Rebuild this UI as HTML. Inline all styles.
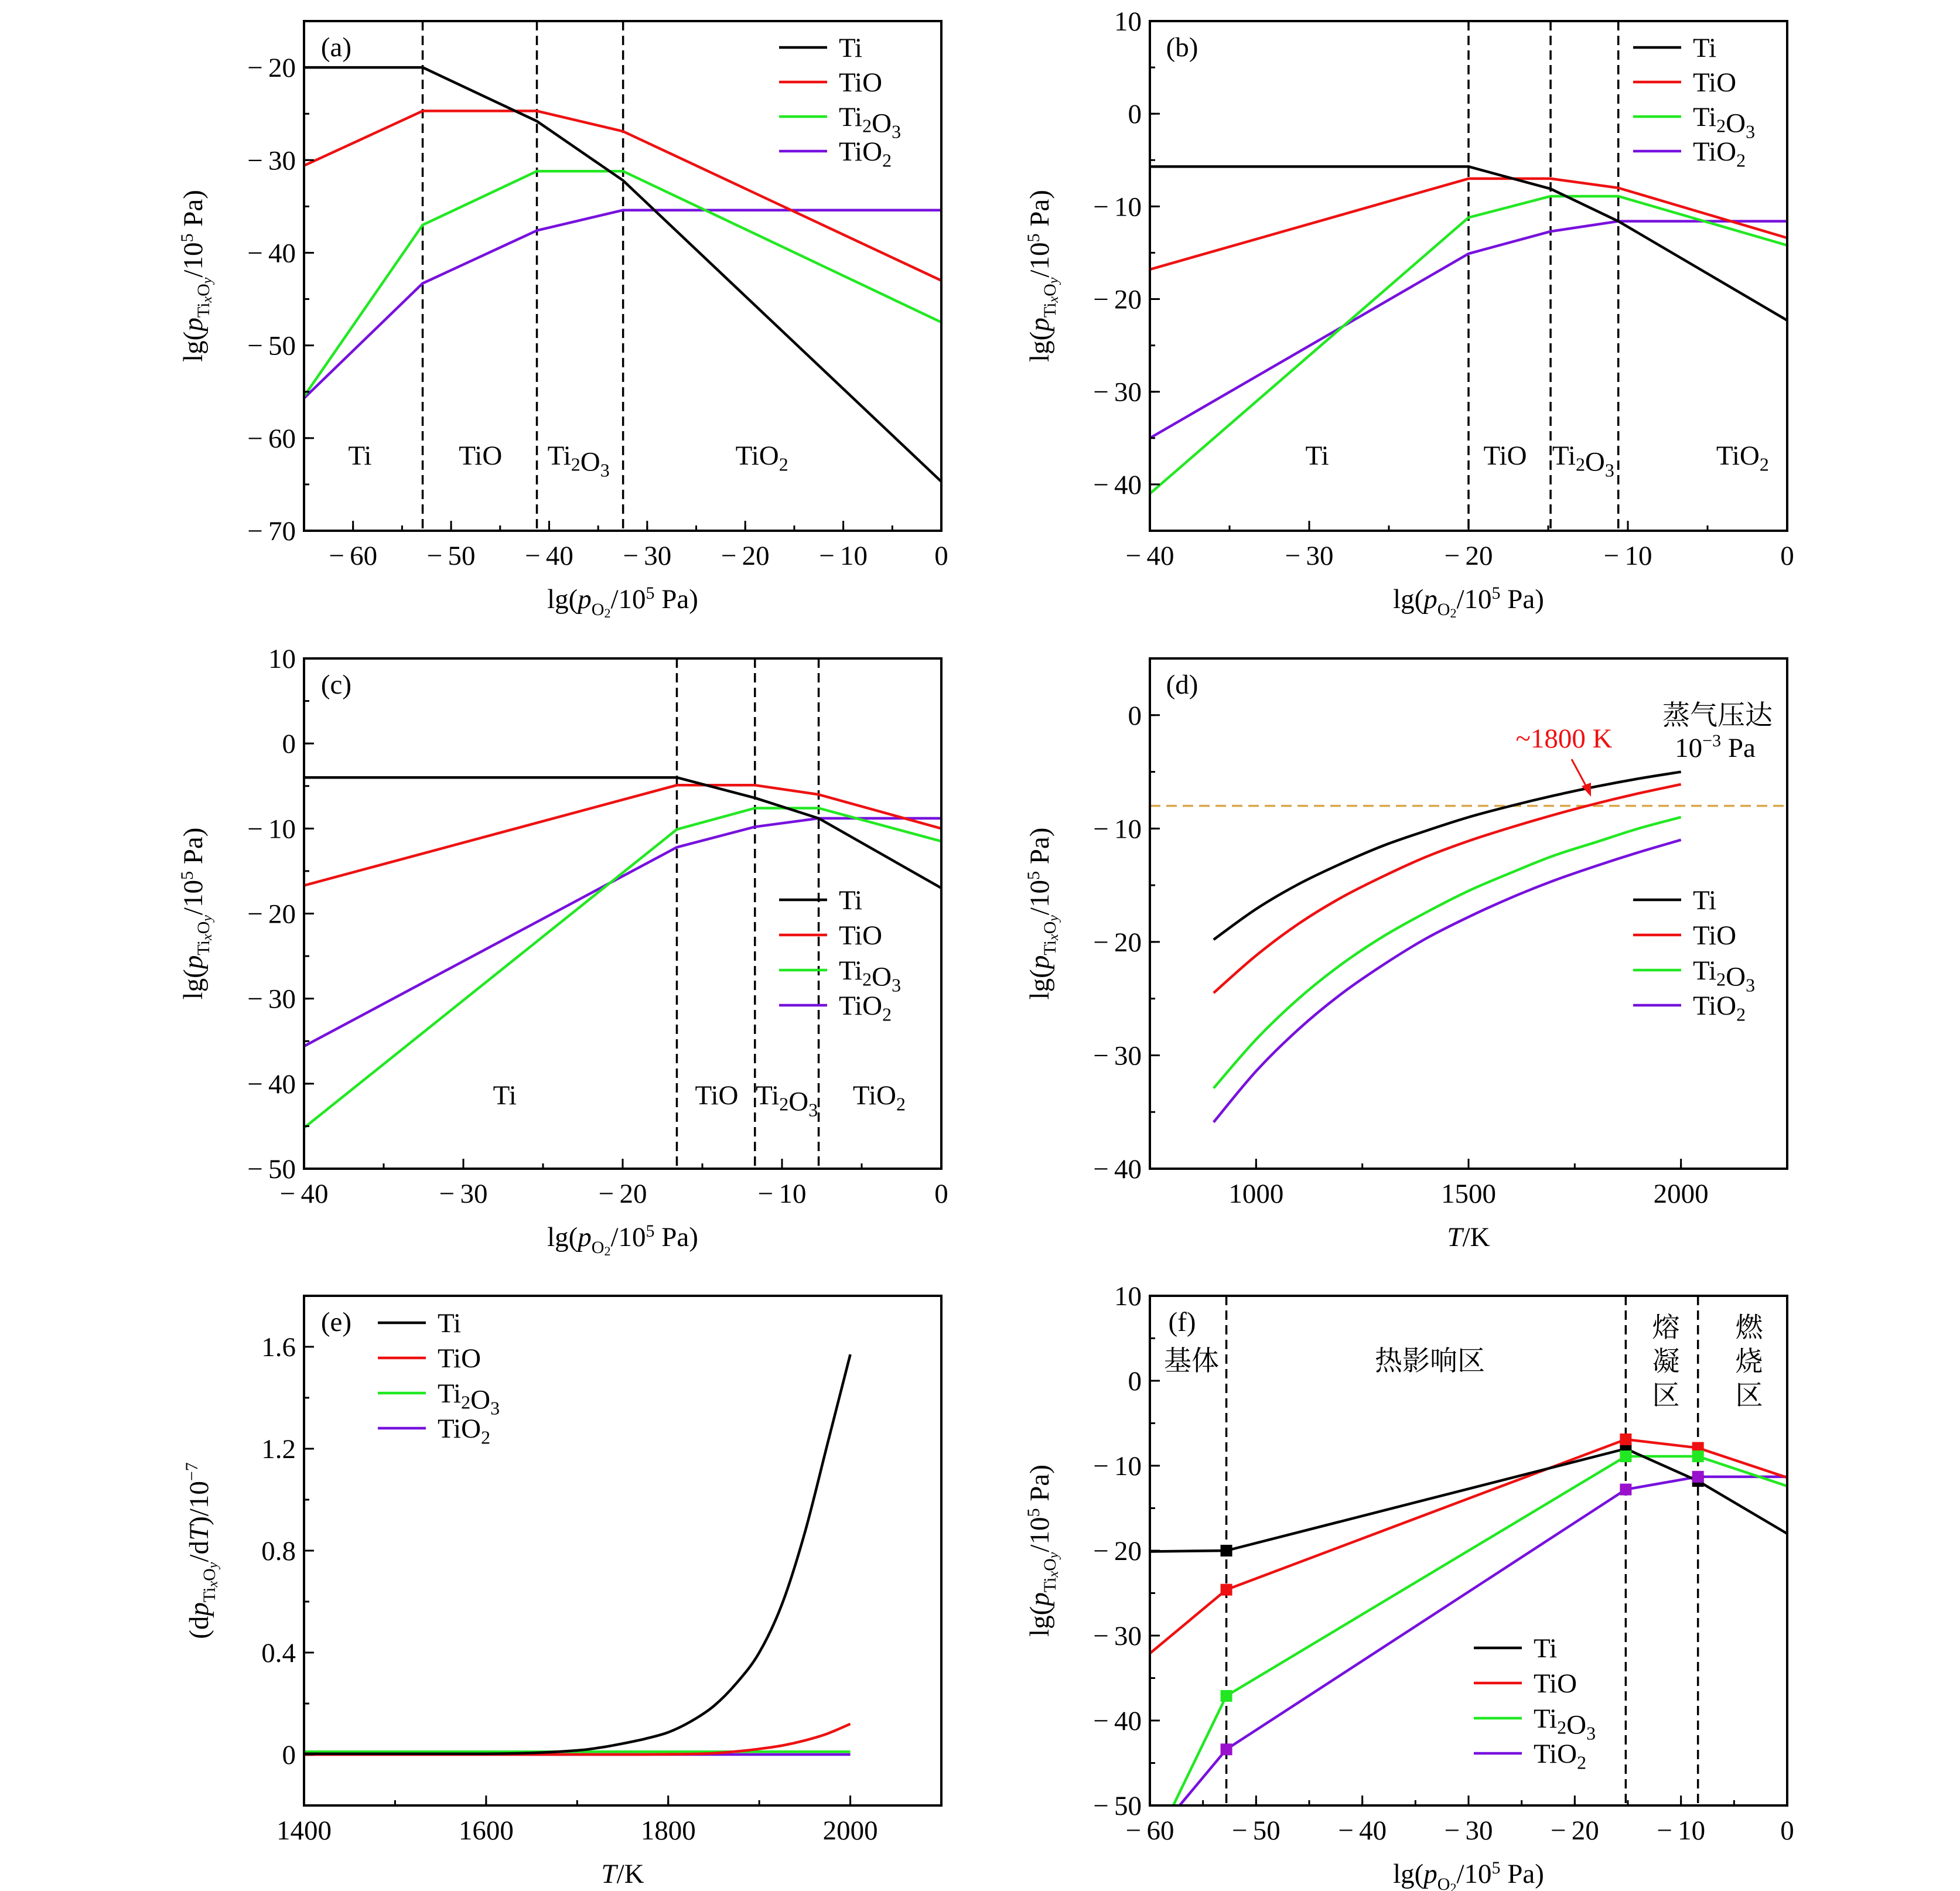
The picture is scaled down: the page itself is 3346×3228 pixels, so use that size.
<!DOCTYPE html>
<html><head><meta charset="utf-8"><style>
html,body{margin:0;padding:0;background:#fff;}
svg{display:block;}
text{font-family:"Liberation Serif","Noto Serif CJK SC","Noto Sans CJK SC",serif;}
</style></head><body>
<svg id="fig" xmlns="http://www.w3.org/2000/svg" width="3346" height="3228" viewBox="0 0 3346 3228"></svg>
<script>
// ---------- DATA ----------
// panel a
const aBounds = [-52.9, -41.25, -32.46];
const aX = [-65, -52.9, -41.25, -32.46, 0];
const aTi = [-20, -20, -25.8, -32.2, -64.7];
const aTiO = [-30.6, -24.7, -24.7, -26.9, -43];
const aTi2O3 = [-55.5, -37, -31.2, -31.2, -47.5];
const aTiO2 = [-55.7, -43.3, -37.6, -35.4, -35.4];
// panel b
const bBounds = [-20, -14.85, -10.6];
const bX = [-40, -20, -14.85, -10.6, 0];
const bTi = [-5.7, -5.7, -8.1, -11.6, -22.3];
const bTiO = [-16.8, -7, -7, -8.0, -13.4];
const bTi2O3 = [-41, -11.2, -8.9, -8.9, -14.2];
const bTiO2 = [-35, -15.1, -12.7, -11.6, -11.6];
// panel c
const cBounds = [-16.6, -11.7, -7.7];
const cX = [-40, -16.6, -11.7, -7.7, 0];
const cTi = [-4.0, -4.0, -6.4, -8.8, -17];
const cTiO = [-16.7, -4.9, -4.9, -6.0, -10];
const cTi2O3 = [-45.2, -10.1, -7.6, -7.6, -11.5];
const cTiO2 = [-35.6, -12.2, -9.8, -8.8, -8.8];
// panel d
const dT = [900, 1000, 1100, 1200, 1300, 1400, 1500, 1600, 1700, 1800, 1900, 2000];
const dTi = [-19.8, -17.1, -14.9, -13.1, -11.5, -10.2, -9.0, -8.0, -7.1, -6.3, -5.6, -5.0];
const dTiO = [-24.5, -21.2, -18.4, -16.1, -14.2, -12.5, -11.1, -9.9, -8.8, -7.8, -6.9, -6.1];
const dTi2O3 = [-32.9, -28.6, -25.0, -22.0, -19.5, -17.4, -15.5, -13.9, -12.4, -11.2, -10.0, -9.0];
const dTiO2 = [-35.9, -31.4, -27.7, -24.6, -22.0, -19.7, -17.8, -16.1, -14.6, -13.3, -12.1, -11.0];
const dThreshold = [-8];
// panel e
const eT = [1400, 1500, 1600, 1650, 1700, 1725, 1750, 1775, 1800, 1825, 1850, 1875, 1900, 1925, 1950, 1975, 2000];
const eTi = [0.003, 0.003, 0.003, 0.006, 0.016, 0.027, 0.043, 0.062, 0.087, 0.13, 0.19, 0.28, 0.40, 0.59, 0.87, 1.22, 1.57];
const eTiO = [0, 0, 0, 0, 0, 0, 0, 0, 0.001, 0.002, 0.005, 0.012, 0.022, 0.035, 0.055, 0.082, 0.12];
const eTi2O3 = [0.011, 0.011, 0.011, 0.011, 0.011, 0.011, 0.011, 0.011, 0.011, 0.011, 0.011, 0.011, 0.011, 0.011, 0.011, 0.011, 0.011];
const eTiO2 = [0, 0, 0, 0, 0, 0, 0, 0, 0, 0, 0, 0, 0, 0, 0, 0, 0];
// panel f
const fBounds = [-52.8, -15.2, -8.4];
const fXTi = [-60, -52.8, -15.2, -8.4, 0];
const fTi = [-20.1, -20, -8.0, -11.8, -18];
const fXTiO = [-60, -52.8, -15.2, -8.4, 0];
const fTiO = [-32.1, -24.6, -6.9, -7.9, -11.4];
const fXTi2O3 = [-57.8, -52.8, -15.2, -8.4, 0];
const fTi2O3 = [-50, -37.1, -8.9, -8.9, -12.4];
const fXTiO2 = [-57.2, -52.8, -15.2, -8.4, 0];
const fTiO2 = [-50, -43.4, -12.8, -11.3, -11.3];

// ---------- DRAWING ----------
const NS = 'http://www.w3.org/2000/svg';
const svg = document.getElementById('fig');
const COL = {Ti:'#000000', TiO:'#ee1111', Ti2O3:'#22e822', TiO2:'#7711dd'};
function mk(tag, attrs, parent){
  const e = document.createElementNS(NS, tag);
  for (const k in attrs) e.setAttribute(k, attrs[k]);
  (parent||svg).appendChild(e);
  return e;
}
function fmt(v, dec){
  const s = Math.abs(v).toFixed(dec);
  return (v < -1e-9 ? '\u2212\u2009' : '') + s;
}
function makePanel(id, L, R, T, B, xmin, xmax, ymin, ymax){
  const g = mk('g', {});
  
  
  const p = {g, L, R, T, B,
    sx: v => L + (v - xmin) / (xmax - xmin) * (R - L),
    sy: v => B - (v - ymin) / (ymax - ymin) * (B - T)};
  const clip = mk('clipPath', {id: 'clip-' + id}, g);
  mk('rect', {x: L, y: T, width: R - L, height: B - T}, clip);
  p.plot = mk('g', {'clip-path': 'url(#clip-' + id + ')'}, g);
  
  
  return p;
}
function frame(p){
  const r = mk('rect', {x: p.L, y: p.T, width: p.R - p.L, height: p.B - p.T, fill: 'none', stroke: '#000', 'stroke-width': 4}, p.g);
  
  
}
function xTicks(p, major, minor, dec){
  const ax = mk('g', {}, p.g);
  
  
  minor.forEach(v => { const x = p.sx(v); mk('line', {x1: x, x2: x, y1: p.B, y2: p.B - 9, stroke: '#000', 'stroke-width': 3}, ax); });
  major.forEach(v => {
    const x = p.sx(v);
    mk('line', {x1: x, x2: x, y1: p.B, y2: p.B - 17, stroke: '#000', 'stroke-width': 3}, ax);
    const t = mk('text', {x: x, y: p.B + 58, 'font-size': 47, 'text-anchor': 'middle'}, ax);
    
    
    t.textContent = fmt(v, dec);
  });
}
function yTicks(p, major, minor, dec){
  const ax = mk('g', {}, p.g);
  
  
  minor.forEach(v => { const y = p.sy(v); mk('line', {x1: p.L, x2: p.L + 9, y1: y, y2: y, stroke: '#000', 'stroke-width': 3}, ax); });
  major.forEach(v => {
    const y = p.sy(v);
    mk('line', {x1: p.L, x2: p.L + 17, y1: y, y2: y, stroke: '#000', 'stroke-width': 3}, ax);
    const t = mk('text', {x: p.L - 14, y: y + 16, 'font-size': 47, 'text-anchor': 'end'}, ax);
    
    
    t.textContent = fmt(v, dec);
  });
}
function range(a, b, s){ const r = []; for (let v = a; v <= b + 1e-9; v += s) r.push(Math.round(v * 1000) / 1000); return r; }
function series(p, xs, ys, color, name, smooth){
  const pts = xs.map((x, i) => [p.sx(x), p.sy(ys[i])]);
  let d = 'M' + pts[0][0] + ' ' + pts[0][1];
  if (smooth) {
    for (let i = 0; i < pts.length - 1; i++) {
      const p0 = pts[Math.max(0, i - 1)], p1 = pts[i], p2 = pts[i + 1], p3 = pts[Math.min(pts.length - 1, i + 2)];
      const c1 = [p1[0] + (p2[0] - p0[0]) / 6, p1[1] + (p2[1] - p0[1]) / 6];
      const c2 = [p2[0] - (p3[0] - p1[0]) / 6, p2[1] - (p3[1] - p1[1]) / 6];
      d += ' C' + c1[0] + ' ' + c1[1] + ' ' + c2[0] + ' ' + c2[1] + ' ' + p2[0] + ' ' + p2[1];
    }
  } else {
    for (let i = 1; i < pts.length; i++) d += ' L' + pts[i][0] + ' ' + pts[i][1];
  }
  const e = mk('path', {d: d, fill: 'none', stroke: color, 'stroke-width': 4.5, 'stroke-linejoin': 'round'}, p.plot);
  
  
}
function vdash(p, xs){
  xs.forEach(v => {
    const x = p.sx(v);
    const e = mk('line', {x1: x, x2: x, y1: p.T, y2: p.B, stroke: '#000', 'stroke-width': 3.5, 'stroke-dasharray': '16 9'}, p.plot);
    
    
  });
}
function species(parent, x, y, name, size, anchor){
  const t = mk('text', {x: x, y: y, 'font-size': size, 'text-anchor': anchor || 'start'}, parent);
  const sub = (s) => { const ts = mk('tspan', {'font-size': size * 0.68, dy: size * 0.22}, t); ts.textContent = s; const b = mk('tspan', {dy: -size * 0.22}, t); b.textContent = ''; };
  const txt = (s) => { const ts = mk('tspan', {}, t); ts.textContent = s; };
  if (name === 'Ti') txt('Ti');
  else if (name === 'TiO') txt('TiO');
  else if (name === 'Ti2O3') { txt('Ti'); sub('2'); txt('O'); sub('3'); }
  else if (name === 'TiO2') { txt('TiO'); sub('2'); }
  return t;
}
function legend(p, x, y0, dy){
  const lg = mk('g', {}, p.g);
  
  
  ['Ti', 'TiO', 'Ti2O3', 'TiO2'].forEach((n, i) => {
    const y = y0 + i * dy;
    const ent = mk('g', {}, lg);
    
    
    mk('line', {x1: x, x2: x + 82, y1: y, y2: y, stroke: COL[n], 'stroke-width': 4.5}, ent);
    species(ent, x + 102, y + 16, n, 47);
  });
}
function label(p, x, y, s, size, name, color){
  const t = mk('text', {x: x, y: y, 'font-size': size || 46, 'text-anchor': 'middle', fill: color || '#000'}, p.g);
  
  
  t.textContent = s;
  return t;
}
function regionLabel(p, xData, yPix, n){
  const t = species(p.g, p.sx(xData), yPix, n, 47, 'middle');
  
  
}
function yTitlePO(p, cx){
  const cy = (p.T + p.B) / 2;
  const t = mk('text', {x: 0, y: 0, 'font-size': 47, 'text-anchor': 'middle', transform: 'translate(' + cx + ',' + cy + ') rotate(-90)'}, p.g);
  
  
  const add = (s, a) => { const ts = mk('tspan', a || {}, t); ts.textContent = s; };
  add('lg(');
  add('p', {'font-style': 'italic'});
  add('Ti', {'font-size': 30, dy: 12});
  add('x', {'font-size': 24, 'font-style': 'italic', dy: 4});
  add('O', {'font-size': 30, dy: -4});
  add('y', {'font-size': 24, 'font-style': 'italic', dy: 4});
  add('/10', {dy: -16});
  add('5', {'font-size': 30, dy: -16});
  add(' Pa)', {dy: 16});
}
function xTitlePO(p){
  const t = mk('text', {x: (p.L + p.R) / 2, y: p.B + 132, 'font-size': 47, 'text-anchor': 'middle'}, p.g);
  
  
  const add = (s, a) => { const ts = mk('tspan', a || {}, t); ts.textContent = s; };
  add('lg(');
  add('p', {'font-style': 'italic'});
  add('O', {'font-size': 30, dy: 12});
  add('2', {'font-size': 22, dy: 4});
  add('/10', {dy: -16});
  add('5', {'font-size': 30, dy: -16});
  add(' Pa)', {dy: 16});
}
function xTitleT(p){
  const t = mk('text', {x: (p.L + p.R) / 2, y: p.B + 132, 'font-size': 47, 'text-anchor': 'middle'}, p.g);
  
  
  const a = mk('tspan', {'font-style': 'italic'}, t); a.textContent = 'T';
  const b = mk('tspan', {}, t); b.textContent = '/K';
}
function panelTag(p, s){ label(p, p.L + 55, p.T + 60, s, 47, 'panel-label'); }

// ---- Panel a ----
const A = makePanel('a', 519, 1607, 36, 906, -65, 0, -70, -15);
vdash(A, aBounds);
series(A, aX, aTiO2, COL.TiO2, 'tio2'); series(A, aX, aTi2O3, COL.Ti2O3, 'ti2o3');
series(A, aX, aTiO, COL.TiO, 'tio'); series(A, aX, aTi, COL.Ti, 'ti');
frame(A); xTicks(A, range(-60, 0, 10), range(-65, 0, 5), 0); yTicks(A, range(-70, -20, 10), range(-70, -15, 5), 0);
legend(A, 1330, 81, 59); panelTag(A, '(a)');
regionLabel(A, -59.3, 793, 'Ti'); regionLabel(A, -47, 793, 'TiO'); regionLabel(A, -37, 793, 'Ti2O3'); regionLabel(A, -18.3, 793, 'TiO2');
yTitlePO(A, 345); xTitlePO(A);

// ---- Panel b ----
const Bp = makePanel('b', 1963, 3051, 36, 906, -40, 0, -45, 10);
vdash(Bp, bBounds);
series(Bp, bX, bTiO2, COL.TiO2, 'tio2'); series(Bp, bX, bTi2O3, COL.Ti2O3, 'ti2o3');
series(Bp, bX, bTiO, COL.TiO, 'tio'); series(Bp, bX, bTi, COL.Ti, 'ti');
frame(Bp); xTicks(Bp, range(-40, 0, 10), range(-40, 0, 5), 0); yTicks(Bp, range(-40, 10, 10), range(-45, 10, 5), 0);
legend(Bp, 2788, 81, 59); panelTag(Bp, '(b)');
regionLabel(Bp, -29.5, 793, 'Ti'); regionLabel(Bp, -17.7, 793, 'TiO'); regionLabel(Bp, -12.8, 793, 'Ti2O3'); regionLabel(Bp, -2.8, 793, 'TiO2');
yTitlePO(Bp, 1790); xTitlePO(Bp);

// ---- Panel c ----
const C = makePanel('c', 519, 1607, 1124, 1995, -40, 0, -50, 10);
vdash(C, cBounds);
series(C, cX, cTiO2, COL.TiO2, 'tio2'); series(C, cX, cTi2O3, COL.Ti2O3, 'ti2o3');
series(C, cX, cTiO, COL.TiO, 'tio'); series(C, cX, cTi, COL.Ti, 'ti');
frame(C); xTicks(C, range(-40, 0, 10), range(-40, 0, 5), 0); yTicks(C, range(-50, 10, 10), range(-50, 10, 5), 0);
legend(C, 1330, 1536, 60); panelTag(C, '(c)');
regionLabel(C, -27.4, 1885, 'Ti'); regionLabel(C, -14.1, 1885, 'TiO'); regionLabel(C, -9.7, 1885, 'Ti2O3'); regionLabel(C, -3.9, 1885, 'TiO2');
yTitlePO(C, 345); xTitlePO(C);

// ---- Panel d ----
const D = makePanel('d', 1963, 3051, 1124, 1995, 750, 2250, -40, 5);
(function(){
  const y = D.sy(dThreshold[0]);
  const e = mk('line', {x1: D.L, x2: D.R, y1: y, y2: y, stroke: '#d9a74a', 'stroke-width': 3.5, 'stroke-dasharray': '18 10'}, D.plot);
  
  
})();
series(D, dT, dTiO2, COL.TiO2, 'tio2', true); series(D, dT, dTi2O3, COL.Ti2O3, 'ti2o3', true);
series(D, dT, dTiO, COL.TiO, 'tio', true); series(D, dT, dTi, COL.Ti, 'ti', true);
frame(D); xTicks(D, [1000, 1500, 2000], range(750, 2250, 250), 0); yTicks(D, range(-40, 0, 10), range(-40, 5, 5), 0);
legend(D, 2788, 1536, 60); panelTag(D, '(d)');
label(D, 2932, 1237, '蒸气压达', 47, 'annotation-vapor-pressure');
(function(){
  const t = mk('text', {x: 2928, y: 1292, 'font-size': 47, 'text-anchor': 'middle'}, D.g);
  
  
  const a = mk('tspan', {}, t); a.textContent = '10';
  const b = mk('tspan', {'font-size': 30, dy: -18}, t); b.textContent = '\u22123';
  const c = mk('tspan', {dy: 18}, t); c.textContent = ' Pa';
})();
label(D, 2670, 1276, '~1800 K', 47, 'annotation-temperature', '#ee1111');
(function(){
  const a = mk('g', {}, D.g);
  
  
  mk('line', {x1: 2683, y1: 1296, x2: 2712, y2: 1350, stroke: '#ee1111', 'stroke-width': 3}, a);
  mk('polygon', {points: '2716,1360 2700,1342 2716,1336', fill: '#ee1111'}, a);
})();
yTitlePO(D, 1790); xTitleT(D);

// ---- Panel e ----
const E = makePanel('e', 519, 1607, 2212, 3082, 1400, 2100, -0.2, 1.8);
series(E, eT, eTiO2, COL.TiO2, 'tio2', true); series(E, eT, eTi2O3, COL.Ti2O3, 'ti2o3', true);
series(E, eT, eTiO, COL.TiO, 'tio', true); series(E, eT, eTi, COL.Ti, 'ti', true);
frame(E); xTicks(E, range(1400, 2000, 200), range(1400, 2100, 100), 0);
yTicks(E, [0, 0.4, 0.8, 1.2, 1.6], range(-0.2, 1.8, 0.2), 1);
legend(E, 645, 2258, 60); panelTag(E, '(e)');
Array.from(E.g.querySelectorAll('text')).forEach(t => { if (t.textContent === '0.0') t.textContent = '0'; });
(function(){
  const cy = (E.T + E.B) / 2;
  const t = mk('text', {x: 0, y: 0, 'font-size': 47, 'text-anchor': 'middle', transform: 'translate(355,' + cy + ') rotate(-90)'}, E.g);
  
  
  const add = (s, a) => { const ts = mk('tspan', a || {}, t); ts.textContent = s; };
  add('(d'); add('p', {'font-style': 'italic'});
  add('Ti', {'font-size': 30, dy: 12}); add('x', {'font-size': 24, 'font-style': 'italic', dy: 4});
  add('O', {'font-size': 30, dy: -4}); add('y', {'font-size': 24, 'font-style': 'italic', dy: 4});
  add('/d', {dy: -16}); add('T', {'font-style': 'italic'}); add(')/10');
  add('\u22127', {'font-size': 30, dy: -18}); add(' ', {dy: 18});
})();
xTitleT(E);

// ---- Panel f ----
const F = makePanel('f', 1963, 3051, 2212, 3082, -60, 0, -50, 10);
vdash(F, fBounds);
series(F, fXTiO2, fTiO2, COL.TiO2, 'tio2'); series(F, fXTi2O3, fTi2O3, COL.Ti2O3, 'ti2o3');
series(F, fXTiO, fTiO, COL.TiO, 'tio'); series(F, fXTi, fTi, COL.Ti, 'ti');
(function(){
  const sets = [[fXTi, fTi, '#000000', 'ti'], [fXTiO, fTiO, '#ee1111', 'tio'], [fXTi2O3, fTi2O3, '#22e822', 'ti2o3'], [fXTiO2, fTiO2, '#9911cc', 'tio2']];
  sets.forEach(s => {
    for (let i = 1; i <= 3; i++) {
      const x = F.sx(s[0][i]), y = F.sy(s[1][i]);
      const r = mk('rect', {x: x - 10, y: y - 10, width: 20, height: 20, fill: s[2]}, F.g);
      
      
    }
  });
})();
frame(F); xTicks(F, range(-60, 0, 10), range(-60, 0, 5), 0); yTicks(F, range(-50, 10, 10), range(-50, 10, 5), 0);
legend(F, 2516, 2813, 60); panelTag(F, '(f)');
label(F, 2034, 2339, '基体', 47, 'zone-label-matrix');
label(F, 2441, 2339, '热影响区', 47, 'zone-label-heat-affected');
['熔', '凝', '区'].forEach((c, i) => label(F, 2844, 2282 + i * 58, c, 47, 'zone-label-fusion'));
['燃', '烧', '区'].forEach((c, i) => label(F, 2986, 2282 + i * 58, c, 47, 'zone-label-combustion'));
yTitlePO(F, 1790); xTitlePO(F);
</script>
</body></html>
